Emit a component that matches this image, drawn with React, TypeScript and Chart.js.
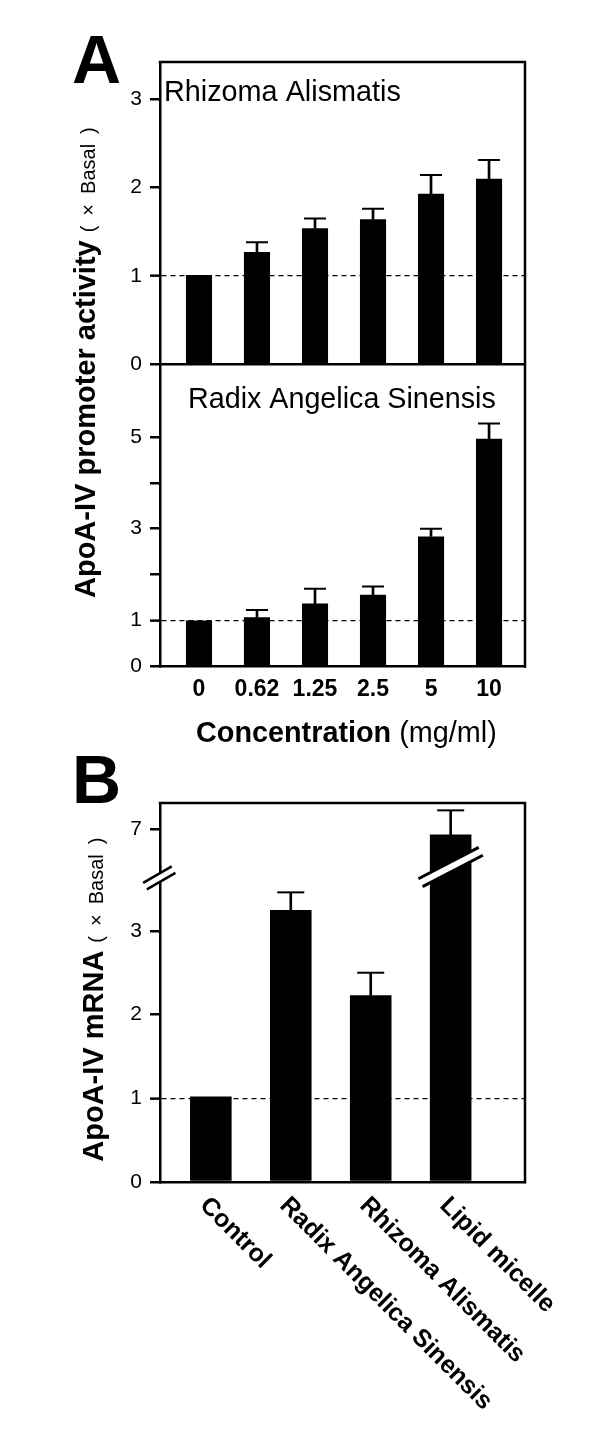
import React, { useEffect, useRef } from 'react';
import { Chart, registerables } from 'chart.js';

Chart.register(...registerables);

// ---------------- data ----------------
const concentrationLabels = ['0', '0.62', '1.25', '2.5', '5', '10'];
const rhizomaActivity = [1.01, 1.27, 1.54, 1.64, 1.93, 2.1];
const rhizomaError = [null, 0.11, 0.11, 0.12, 0.21, 0.21];
const radixActivity = [1.0, 1.07, 1.37, 1.56, 2.83, 4.96];
const radixError = [null, 0.16, 0.32, 0.18, 0.17, 0.33];
const rhizomaTicks = [0, 1, 2, 3];
const radixTicks = [0, 1, 2, 3, 4, 5];
const radixTickLabels = ['0', '1', '', '3', '', '5'];

const mrnaCategories = ['Control', 'Radix Angelica Sinensis', 'Rhizoma Alismatis', 'Lipid micelle'];
const mrnaValues = [1.02, 3.25, 2.23, 6.94];
const mrnaError = [null, 0.21, 0.27, 0.29];
const mrnaLowTicks = [0, 1, 2, 3];
const mrnaHighTicks = [7];
const basalLevel = 1;

// axis ranges
const rhizomaRange = { min: 0, max: 3.42 };
const radixRange = { min: 0, max: 6.58 };
const mrnaLowRange = { min: 0, max: 3.763 };
const mrnaHighRange = { min: 6.553, max: 7.318 };
const concXRange = { min: -0.672, max: 5.62 };
const mrnaXRange = { min: -0.636, max: 3.93 };

// ---------------- styling helpers ----------------
const FONT = "'Liberation Sans', Arial, Helvetica, sans-serif";
const fnt = (size: number, bold = false) => `${bold ? 'bold ' : ''}${size}px ${FONT}`;
const BLACK = '#000';
const AXIS_W = 2.5;

Chart.defaults.font.family = FONT;
Chart.defaults.color = BLACK;

function yScale(o: any) {
  return {
    type: 'linear',
    position: 'left',
    min: o.range.min,
    max: o.range.max,
    stack: o.stack,
    stackWeight: o.weight,
    afterFit: (s: any) => { s.width = 160; },
    afterBuildTicks: (s: any) => { s.ticks = o.ticks.map((value: number) => ({ value })); },
    ticks: {
      font: { size: 21 },
      color: BLACK,
      padding: 8,
      callback: (v: number) => (o.labels ? o.labels[o.ticks.indexOf(v)] : String(v)),
    },
    grid: {
      drawOnChartArea: true,
      color: (c: any) => {
        const v = c.tick ? c.tick.value : null;
        if (v === basalLevel) return BLACK;
        if (o.divider && v === 0) return BLACK;
        return 'rgba(0,0,0,0)';
      },
      lineWidth: (c: any) => (c.tick && c.tick.value === basalLevel ? 1.3 : AXIS_W),
      tickColor: BLACK,
      tickWidth: AXIS_W,
      tickLength: 10,
    },
    border: {
      display: true,
      color: BLACK,
      width: AXIS_W,
      dash: (c: any) => (c.tick && c.tick.value === basalLevel ? [5, 4] : []),
    },
  };
}

function xScale(range: any, count: number, tickOpts: any) {
  return {
    type: 'linear',
    position: 'bottom',
    min: range.min,
    max: range.max,
    offset: false,
    afterBuildTicks: (s: any) => {
      s.ticks = Array.from({ length: count }, (_, i) => ({ value: i }));
    },
    afterFit: (s: any) => { s.height = tickOpts.height; },
    ticks: tickOpts.ticks,
    grid: { drawOnChartArea: false, drawTicks: false, offset: false },
    border: { display: true, color: BLACK, width: AXIS_W },
  };
}

function barSet(values: number[], yAxisID: string, pct: number, filter?: (i: number) => boolean, base?: number) {
  const data = values
    .map((v, i) => ({ i, v }))
    .filter((d) => (filter ? filter(d.i) : true))
    .map((d) => ({ x: d.i, y: base === undefined ? d.v : [base, d.v] }));
  return {
    type: 'bar',
    data,
    xAxisID: 'x',
    yAxisID,
    backgroundColor: BLACK,
    borderWidth: 0,
    grouped: false,
    barPercentage: pct,
    categoryPercentage: 1,
    order: 3,
  };
}

function stemSet(values: number[], errors: any[], yAxisID: string, filter?: (i: number) => boolean) {
  const data = values
    .map((v, i) => ({ i, v, e: errors[i] }))
    .filter((d) => d.e != null && (filter ? filter(d.i) : true))
    .map((d) => ({ x: d.i, y: [d.v, d.v + d.e] }));
  return {
    type: 'bar',
    data,
    xAxisID: 'x',
    yAxisID,
    backgroundColor: BLACK,
    borderWidth: 0,
    grouped: false,
    barThickness: 2,
    order: 2,
  };
}

function capSet(values: number[], errors: any[], yAxisID: string, half: number, filter?: (i: number) => boolean) {
  const data = values
    .map((v, i) => ({ i, v, e: errors[i] }))
    .filter((d) => d.e != null && (filter ? filter(d.i) : true))
    .map((d) => ({ x: d.i, y: d.v + d.e }));
  return {
    type: 'line',
    data,
    xAxisID: 'x',
    yAxisID,
    showLine: false,
    pointStyle: 'line',
    pointRadius: half,
    pointHoverRadius: half,
    pointBorderWidth: 2,
    pointBorderColor: BLACK,
    borderColor: BLACK,
    order: 1,
  };
}

type Run = { text: string; font: string; gap?: number };

function drawRuns(ctx: CanvasRenderingContext2D, x: number, y: number, runs: Run[], rotate = 0) {
  ctx.save();
  ctx.translate(x, y);
  if (rotate) ctx.rotate(rotate);
  ctx.fillStyle = BLACK;
  ctx.textBaseline = 'alphabetic';
  ctx.textAlign = 'left';
  let cx = 0;
  for (const r of runs) {
    cx += r.gap || 0;
    ctx.font = r.font;
    ctx.fillText(r.text, cx, 0);
    cx += ctx.measureText(r.text).width;
  }
  ctx.restore();
}

const basalRuns = (): Run[] => [
  { text: '(', font: fnt(20), gap: 8 },
  { text: '×', font: fnt(20), gap: 10 },
  { text: 'Basal', font: fnt(20), gap: 10 },
  { text: ')', font: fnt(20), gap: 10 },
];

function drawFrame(chart: any) {
  const { ctx, chartArea: a } = chart;
  ctx.save();
  ctx.strokeStyle = BLACK;
  ctx.lineWidth = AXIS_W;
  ctx.lineCap = 'square';
  ctx.beginPath();
  ctx.moveTo(a.left, a.top);
  ctx.lineTo(a.right, a.top);
  ctx.lineTo(a.right, a.bottom);
  ctx.stroke();
  ctx.restore();
}

function drawBreak(ctx: CanvasRenderingContext2D, cx: number, cy: number, angleDeg: number, half: number, sep: number, lw: number) {
  const a = (angleDeg * Math.PI) / 180;
  const d = { x: Math.cos(a), y: -Math.sin(a) };
  const n = { x: Math.sin(a), y: Math.cos(a) };
  const p = (s: number, t: number) => ({ x: cx + d.x * s + n.x * t, y: cy + d.y * s + n.y * t });
  ctx.save();
  const q = [p(-half, -sep / 2), p(half, -sep / 2), p(half, sep / 2), p(-half, sep / 2)];
  ctx.fillStyle = '#fff';
  ctx.beginPath();
  ctx.moveTo(q[0].x, q[0].y);
  for (let i = 1; i < 4; i++) ctx.lineTo(q[i].x, q[i].y);
  ctx.closePath();
  ctx.fill();
  ctx.strokeStyle = BLACK;
  ctx.lineWidth = lw;
  ctx.beginPath();
  ctx.moveTo(q[0].x, q[0].y);
  ctx.lineTo(q[1].x, q[1].y);
  ctx.moveTo(q[3].x, q[3].y);
  ctx.lineTo(q[2].x, q[2].y);
  ctx.stroke();
  ctx.restore();
}

// ---------------- chart configs ----------------
const A_HEIGHT = 750;
const B_TOP = 750;
const B_HEIGHT = 1437 - 750;
// panel B plot area (canvas coordinates) split into two stacked segments
const B_AREA_TOP = 53;
const B_AREA_BOTTOM = 432;
const B_HIGH_PX = 64;

function buildA(): any {
  const decor = {
    id: 'decorA',
    afterDraw(chart: any) {
      const ctx = chart.ctx;
      drawFrame(chart);
      drawRuns(ctx, 72, 83, [{ text: 'A', font: fnt(68, true) }]);
      drawRuns(ctx, 164, 101, [{ text: 'Rhizoma Alismatis', font: fnt(28.8) }]);
      drawRuns(ctx, 188, 408, [{ text: 'Radix Angelica Sinensis', font: fnt(28.7) }]);
      drawRuns(ctx, 196, 741.5, [
        { text: 'Concentration', font: fnt(28.8, true) },
        { text: ' (mg/ml)', font: fnt(28.8) },
      ]);
      drawRuns(ctx, 95, 598, [{ text: 'ApoA-IV promoter activity', font: fnt(29, true) }, ...basalRuns()], -Math.PI / 2);
    },
  };
  return {
    type: 'bar',
    data: {
      datasets: [
        barSet(rhizomaActivity, 'yTop', 0.45),
        barSet(radixActivity, 'yBottom', 0.45),
        stemSet(rhizomaActivity, rhizomaError, 'yTop'),
        stemSet(radixActivity, radixError, 'yBottom'),
        capSet(rhizomaActivity, rhizomaError, 'yTop', 11),
        capSet(radixActivity, radixError, 'yBottom', 11),
      ],
    },
    options: {
      responsive: false,
      animation: false,
      devicePixelRatio: 1,
      events: [],
      layout: { padding: { left: 0, top: 62, right: 75, bottom: A_HEIGHT - 666.5 - 50 } },
      plugins: { legend: { display: false }, tooltip: { enabled: false }, title: { display: false } },
      scales: {
        x: xScale(concXRange, concentrationLabels.length, {
          height: 50,
          ticks: {
            font: { size: 23, weight: 'bold' },
            color: BLACK,
            padding: 9,
            autoSkip: false,
            maxRotation: 0,
            minRotation: 0,
            callback: (v: number) => concentrationLabels[v],
          },
        }),
        yBottom: yScale({ range: radixRange, ticks: radixTicks, labels: radixTickLabels, stack: 'a', weight: 1 }),
        yTop: yScale({ range: rhizomaRange, ticks: rhizomaTicks, stack: 'a', weight: 1, divider: true }),
      },
    },
    plugins: [decor],
  };
}

function buildB(): any {
  const onHigh = (i: number) => mrnaValues[i] > mrnaHighRange.min;
  const onLow = (i: number) => !onHigh(i);
  const decor = {
    id: 'decorB',
    afterDraw(chart: any) {
      const ctx = chart.ctx;
      drawFrame(chart);
      const boundary = chart.scales.yLow.top;
      const xs = chart.scales.x;
      drawBreak(ctx, chart.chartArea.left - 0.7, boundary + 10.8, 30, 16.5, 7.5, 2.5);
      mrnaValues.forEach((v, i) => {
        if (v > mrnaLowRange.max) drawBreak(ctx, xs.getPixelForValue(i), boundary, 27.5, 34, 9, 3);
      });
      drawRuns(ctx, 72, 53, [{ text: 'B', font: fnt(68, true) }]);
      drawRuns(ctx, 102.5, 1161.7 - B_TOP, [{ text: 'ApoA-IV mRNA', font: fnt(29, true) }, ...basalRuns()], -Math.PI / 2);
      const y0 = chart.chartArea.bottom;
      mrnaCategories.forEach((label, i) => {
        drawRuns(ctx, xs.getPixelForValue(i) - 12, y0 + 24.5, [{ text: label, font: fnt(25, true) }], Math.PI / 4);
      });
    },
  };
  return {
    type: 'bar',
    data: {
      datasets: [
        barSet(mrnaValues.map((v) => Math.min(v, mrnaLowRange.max)), 'yLow', 0.52),
        barSet(mrnaValues, 'yHigh', 0.52, onHigh, mrnaHighRange.min),
        stemSet(mrnaValues, mrnaError, 'yLow', onLow),
        stemSet(mrnaValues, mrnaError, 'yHigh', onHigh),
        capSet(mrnaValues, mrnaError, 'yLow', 13.5, onLow),
        capSet(mrnaValues, mrnaError, 'yHigh', 13.5, onHigh),
      ],
    },
    options: {
      responsive: false,
      animation: false,
      devicePixelRatio: 1,
      events: [],
      layout: { padding: { left: 0, top: B_AREA_TOP, right: 75, bottom: B_HEIGHT - B_AREA_BOTTOM - 10 } },
      plugins: { legend: { display: false }, tooltip: { enabled: false }, title: { display: false } },
      scales: {
        x: xScale(mrnaXRange, mrnaCategories.length, { height: 10, ticks: { display: false } }),
        yLow: yScale({ range: mrnaLowRange, ticks: mrnaLowTicks, stack: 'b', weight: B_AREA_BOTTOM - B_AREA_TOP - B_HIGH_PX }),
        yHigh: yScale({ range: mrnaHighRange, ticks: mrnaHighTicks, stack: 'b', weight: B_HIGH_PX }),
      },
    },
    plugins: [decor],
  };
}

function ChartCanvas({ top, height, build }: { top: number; height: number; build: () => any }) {
  const ref = useRef<HTMLCanvasElement>(null);
  useEffect(() => {
    const chart = new Chart(ref.current as HTMLCanvasElement, build());
    return () => chart.destroy();
  }, []);
  return (
    <canvas
      ref={ref}
      width={600}
      height={height}
      style={{ position: 'absolute', left: 0, top, width: 600, height }}
    />
  );
}

export default function App() {
  return (
    <div style={{ position: 'absolute', left: 0, top: 0, width: 600, height: 1437, background: '#fff', overflow: 'hidden' }}>
      <ChartCanvas top={0} height={A_HEIGHT} build={buildA} />
      <ChartCanvas top={B_TOP} height={B_HEIGHT} build={buildB} />
    </div>
  );
}
